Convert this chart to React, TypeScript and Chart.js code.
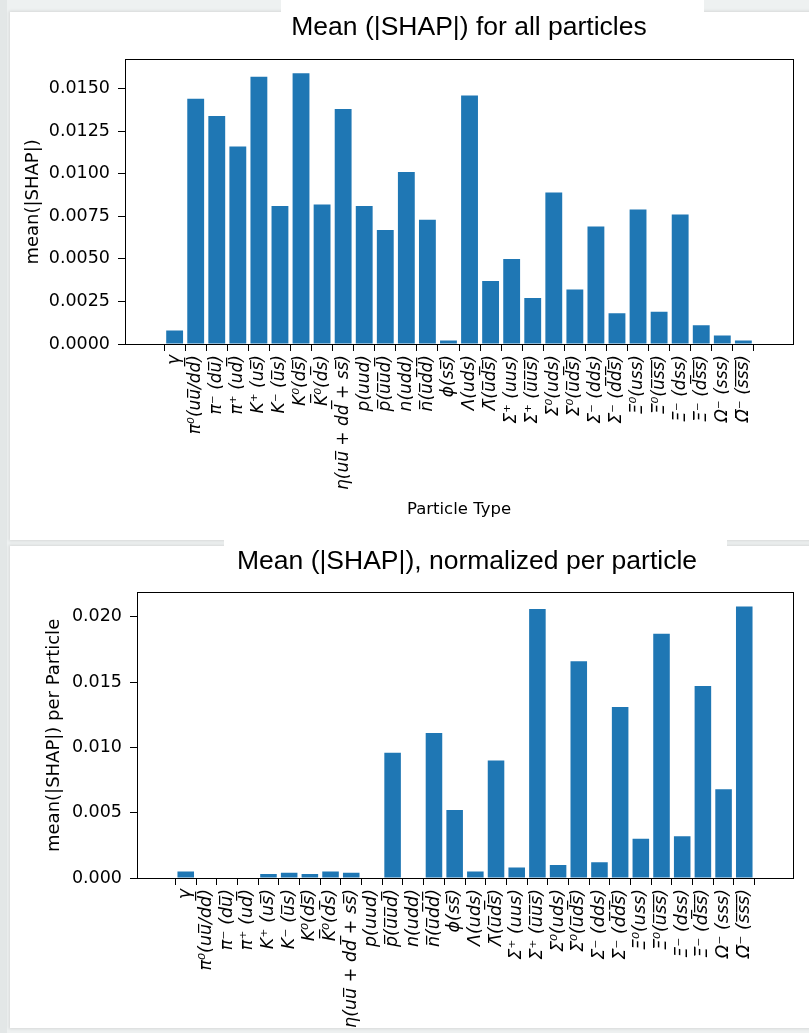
import React, { useEffect, useRef } from "react";
import { Chart, registerables } from "chart.js";

Chart.register(...registerables);

// ---------- data ----------
const particleLabels = [
  "γ",
  "π⁰(uu̅/dd̅)",
  "π⁻ (du̅)",
  "π⁺ (ud̅)",
  "K⁺ (us̅)",
  "K⁻ (u̅s)",
  "K⁰(ds̅)",
  "K̅⁰(d̅s)",
  "η(uu̅ + dd̅ + ss̅)",
  "p(uud)",
  "p̅(u̅u̅d̅)",
  "n(udd)",
  "n̅(u̅d̅d̅)",
  "ϕ(ss̅)",
  "Λ(uds)",
  "Λ̅(u̅d̅s̅)",
  "Σ⁺ (uus)",
  "Σ̅⁺ (u̅u̅s̅)",
  "Σ⁰(uds)",
  "Σ̅⁰(u̅d̅s̅)",
  "Σ⁻ (dds)",
  "Σ̅⁻ (d̅d̅s̅)",
  "Ξ⁰(uss)",
  "Ξ̅⁰(u̅s̅s̅)",
  "Ξ⁻ (dss)",
  "Ξ̅⁻ (d̅s̅s̅)",
  "Ω⁻ (sss)",
  "Ω̅⁻ (s̅s̅s̅)",
];

const meanShapAll = [
  0.0008, 0.0144, 0.0134, 0.0116, 0.0157, 0.0081, 0.0159, 0.0082, 0.0138,
  0.0081, 0.0067, 0.0101, 0.0073, 0.0002, 0.0146, 0.0037, 0.005, 0.0027,
  0.0089, 0.0032, 0.0069, 0.0018, 0.0079, 0.0019, 0.0076, 0.0011, 0.0005,
  0.0002,
];

const meanShapPerParticle = [
  0.0005, 0.0, 0.0, 0.0, 0.0003, 0.0004, 0.0003, 0.0005, 0.0004, 0.0,
  0.0096, 0.0, 0.0111, 0.0052, 0.0005, 0.009, 0.0008, 0.0206, 0.001, 0.0166,
  0.0012, 0.0131, 0.003, 0.0187, 0.0032, 0.0147, 0.0068, 0.0208,
];

const yTicksAll = [0, 0.0025, 0.005, 0.0075, 0.01, 0.0125, 0.015];
const yTicksPerParticle = [0, 0.005, 0.01, 0.015, 0.02];

const titleAll = "Mean (|SHAP|) for all particles";
const titlePerParticle = "Mean (|SHAP|), normalized per particle";
const yLabelAll = "mean(|SHAP|)";
const yLabelPerParticle = "mean(|SHAP|) per Particle";
const xLabel = "Particle Type";

// ---------- helpers ----------
const BAR_COLOR = "#1f77b4";
const DV = "'DejaVu Sans', sans-serif";
const TITLE_FONT = "'Liberation Sans', Arial, sans-serif";

const alignPx = (p: number) => Math.round(p - 0.5) + 0.5;

const boxPlugin = {
  id: "axesBox",
  afterDraw(chart: any) {
    const { ctx, chartArea } = chart;
    const l = alignPx(chartArea.left);
    const r = alignPx(chartArea.right);
    const t = alignPx(chartArea.top);
    const b = alignPx(chartArea.bottom);
    ctx.save();
    ctx.strokeStyle = "#000";
    ctx.lineWidth = 1;
    ctx.strokeRect(l, t, r - l, b - t);
    ctx.restore();
  },
};

function titleShiftPlugin(dx: number) {
  return {
    id: "titleShift",
    afterLayout(chart: any) {
      const tb = chart.titleBlock;
      if (tb) {
        tb.left += dx;
        tb.right += dx;
      }
    },
  };
}

type Cfg = {
  values: number[];
  yTicks: number[];
  decimals: number;
  title: string;
  yLabel: string;
  xTitle: string | null;
  yWidth: number;
  xHeight: number;
  titlePad: { top: number; bottom: number };
  titleShift: number;
  yTitlePad: number;
  xTickSize: number;
};

function makeConfig(c: Cfg): any {
  const n = particleLabels.length;
  const margin = 0.05 * (n - 1 + 0.8);
  const yMax = Math.max(...c.values) * 1.05;
  return {
    type: "bar",
    data: {
      datasets: [
        {
          data: c.values.map((v, i) => ({ x: i, y: v })),
          backgroundColor: BAR_COLOR,
          borderWidth: 0,
          categoryPercentage: 0.8,
          barPercentage: 1.0,
        },
      ],
    },
    options: {
      responsive: false,
      animation: false,
      devicePixelRatio: 1,
      layout: { padding: { left: 0, right: 16, top: 0, bottom: 0 } },
      plugins: {
        legend: { display: false },
        tooltip: { enabled: false },
        title: {
          display: true,
          text: c.title,
          fullSize: false,
          color: "#000",
          font: { family: TITLE_FONT, size: 26.5, weight: "normal" },
          padding: c.titlePad,
        },
      },
      scales: {
        x: {
          type: "linear",
          min: -0.4 - margin,
          max: n - 1 + 0.4 + margin,
          afterBuildTicks: (s: any) => {
            s.ticks = particleLabels.map((_, i) => ({ value: i }));
          },
          afterFit: (s: any) => {
            s.height = c.xHeight;
          },
          ticks: {
            autoSkip: false,
            minRotation: 90,
            maxRotation: 90,
            padding: 4,
            color: "#000",
            font: { family: DV, size: c.xTickSize, style: "italic" },
            callback: (v: any) => particleLabels[Math.round(Number(v))] ?? "",
          },
          grid: {
            display: true,
            drawOnChartArea: false,
            tickLength: 7,
            color: "#000",
            lineWidth: 1,
          },
          border: { display: true, color: "#000", width: 1 },
          title: c.xTitle
            ? {
                display: true,
                text: c.xTitle,
                color: "#000",
                font: { family: DV, size: 16.5 },
                padding: { top: 0, bottom: 10 },
              }
            : { display: false },
        },
        y: {
          type: "linear",
          min: 0,
          max: yMax,
          afterBuildTicks: (s: any) => {
            s.ticks = c.yTicks.map((v) => ({ value: v }));
          },
          afterFit: (s: any) => {
            s.width = c.yWidth;
          },
          ticks: {
            color: "#000",
            padding: 8,
            font: { family: DV, size: 17.5 },
            callback: (v: any) => Number(v).toFixed(c.decimals),
          },
          grid: {
            display: true,
            drawOnChartArea: false,
            tickLength: 7,
            color: "#000",
            lineWidth: 1,
          },
          border: { display: true, color: "#000", width: 1 },
          title: {
            display: true,
            text: c.yLabel,
            color: "#000",
            font: { family: DV, size: 18 },
            padding: { top: c.yTitlePad, bottom: 0 },
          },
        },
      },
    },
    plugins: [boxPlugin, titleShiftPlugin(c.titleShift)],
  };
}

function BarCanvas(props: { cfg: Cfg; width: number; height: number; top: number }) {
  const ref = useRef<HTMLCanvasElement | null>(null);
  useEffect(() => {
    if (!ref.current) return;
    const chart = new Chart(ref.current, makeConfig(props.cfg));
    return () => chart.destroy();
  }, []);
  return (
    <canvas
      ref={ref}
      width={props.width}
      height={props.height}
      style={{
        position: "absolute",
        left: 0,
        top: props.top,
        width: props.width,
        height: props.height,
      }}
    />
  );
}

export default function App() {
  const topCfg: Cfg = {
    values: meanShapAll,
    yTicks: yTicksAll,
    decimals: 4,
    title: titleAll,
    yLabel: yLabelAll,
    xTitle: xLabel,
    yWidth: 125,
    xHeight: 186,
    titlePad: { top: 12, bottom: 16 },
    titleShift: 10,
    yTitlePad: 23,
    xTickSize: 17,
  };
  const bottomCfg: Cfg = {
    values: meanShapPerParticle,
    yTicks: yTicksPerParticle,
    decimals: 3,
    title: titlePerParticle,
    yLabel: yLabelPerParticle,
    xTitle: null,
    yWidth: 137,
    xHeight: 155,
    titlePad: { top: 16, bottom: 15 },
    titleShift: 2,
    yTitlePad: 44,
    xTickSize: 17.5,
  };
  return (
    <div
      style={{
        position: "absolute",
        left: 0,
        top: 0,
        width: 809,
        height: 1033,
        background: "#eef1f1",
        overflow: "hidden",
      }}
    >
      <div style={{ position: "absolute", left: 0, top: 0, width: 7, height: 1033, background: "#e3e7e7" }} />
      <div
        style={{
          position: "absolute",
          left: 10,
          top: 12,
          width: 820,
          height: 528,
          background: "#fff",
          boxShadow: "0 0 3px 1px rgba(0,0,0,0.10)",
        }}
      />
      <div
        style={{
          position: "absolute",
          left: 10,
          top: 546,
          width: 820,
          height: 482,
          background: "#fff",
          boxShadow: "0 0 3px 1px rgba(0,0,0,0.10)",
        }}
      />
      <div style={{ position: "absolute", left: 281, top: 0, width: 423, height: 20, background: "#fff" }} />
      <div style={{ position: "absolute", left: 224, top: 532, width: 503, height: 20, background: "#fff" }} />
      <BarCanvas cfg={topCfg} width={809} height={530} top={0} />
      <BarCanvas cfg={bottomCfg} width={809} height={503} top={530} />
    </div>
  );
}
